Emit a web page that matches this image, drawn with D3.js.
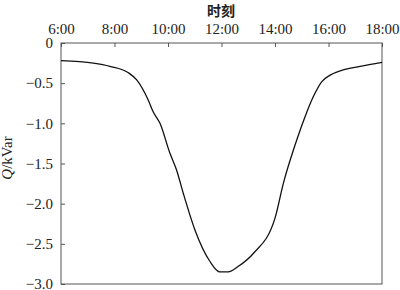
<!DOCTYPE html>
<html>
<head>
<meta charset="utf-8">
<script src="https://cdn.jsdelivr.net/npm/d3@7"></script>
<style>
    body { margin: 0; background: #fff; }
    svg { display: block; }
    .serif { font-family: "Liberation Serif", "Times New Roman", serif; }
</style>
</head>
<body>
<div id="chart"></div>
<script>
// 数据：时刻(小时) 与 无功功率 Q
const hours = [6.0, 7.21, 7.83, 8.52, 8.83, 9.26, 9.45, 9.70, 10.07, 10.32, 10.57, 11.01, 11.57, 11.94, 12.25,
               12.63, 13.19, 14.0, 14.31, 14.75, 15.12, 15.43, 15.75, 16.06, 16.49, 17.18, 18.0];
const qValues = [-0.22, -0.25, -0.29, -0.37, -0.46, -0.71, -0.86, -1.0, -1.37, -1.58, -1.87, -2.33, -2.72, -2.85, -2.85,
                 -2.78, -2.62, -2.18, -1.75, -1.27, -0.92, -0.67, -0.48, -0.40, -0.34, -0.29, -0.24];
const xTicks = [6, 8, 10, 12, 14, 16, 18];
const yTicks = [0, -0.5, -1.0, -1.5, -2.0, -2.5, -3.0];

const width = 400, height = 290;
const margin = { top: 43, right: 18, bottom: 6, left: 61 };

const svg = d3.select("#chart")
    .append("svg")
    .attr("width", width)
    .attr("height", height);

const x = d3.scaleLinear().domain([6, 18]).range([margin.left, width - margin.right]);
const y = d3.scaleLinear().domain([0, -3]).range([margin.top, height - margin.bottom]);

const font = "'Liberation Serif', 'Times New Roman', serif";

// 坐标框
svg.append("rect")
    .attr("x", x(6)).attr("y", y(0))
    .attr("width", x(18) - x(6)).attr("height", y(-3) - y(0))
    .attr("fill", "none").attr("stroke", "#555").attr("stroke-width", 1);

// 顶部 x 轴
const xAxis = svg.append("g")
    .attr("transform", `translate(0,${y(0)})`)
    .call(d3.axisTop(x).tickValues(xTicks).tickSizeInner(-4).tickSizeOuter(0).tickPadding(9)
        .tickFormat(d => d + ":00"));
xAxis.attr("font-family", null);
xAxis.select(".domain").remove();
xAxis.selectAll("line").attr("stroke", "#555");
xAxis.selectAll("text").style("font-family", font).style("font-size", "15px").attr("fill", "#222");

// 左侧 y 轴
const yAxis = svg.append("g")
    .attr("transform", `translate(${x(6)},0)`)
    .call(d3.axisLeft(y).tickValues(yTicks).tickSizeInner(-4).tickSizeOuter(0).tickPadding(8)
        .tickFormat(d => d === 0 ? "0" : d3.format(".1f")(d).replace("-", "\u2212")));
yAxis.attr("font-family", null);
yAxis.select(".domain").remove();
yAxis.selectAll("line").attr("stroke", "#555");
yAxis.selectAll("text").style("font-family", font).style("font-size", "15px").attr("fill", "#222");

// 曲线
const line = d3.line()
    .x((d, i) => x(hours[i]))
    .y(d => y(d))
    .curve(d3.curveMonotoneX);

svg.append("path")
    .datum(qValues)
    .attr("d", line)
    .attr("fill", "none")
    .attr("stroke", "#111")
    .attr("stroke-width", 1.3);

// 轴标题
svg.append("text")
    .attr("x", 221).attr("y", 16)
    .attr("text-anchor", "middle")
    .style("font-family", "'Noto Sans CJK SC', sans-serif")
    .attr("font-weight", "bold")
    .attr("font-size", 14)
    .attr("fill", "#222")
    .text("时刻");

const yLabel = svg.append("text")
    .attr("transform", "translate(12,158) rotate(-90)")
    .attr("text-anchor", "middle")
    .style("font-family", font)
    .attr("font-size", 15)
    .attr("fill", "#222");
yLabel.append("tspan").attr("font-style", "italic").text("Q");
yLabel.append("tspan").text("/kVar");
</script>
</body>
</html>
